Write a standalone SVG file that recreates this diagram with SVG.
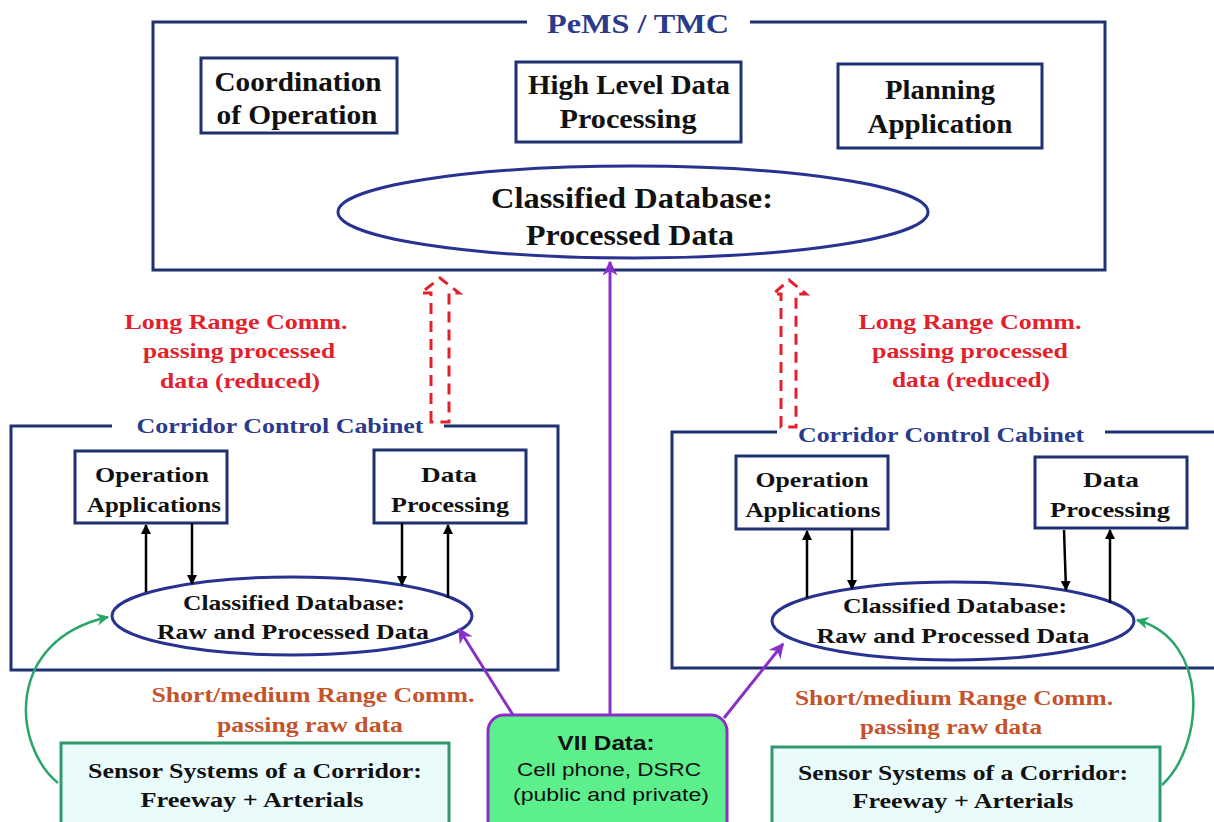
<svg xmlns="http://www.w3.org/2000/svg" width="1214" height="822" viewBox="0 0 1214 822">
<defs>
<style>
.t{font-family:"Liberation Serif","Times New Roman",serif;font-weight:bold;text-anchor:middle;fill:#111}
.box{fill:#fff;stroke:#1e3170;stroke-width:3}
.ell{fill:#fff;stroke:#27338f;stroke-width:3}
.frame{fill:none;stroke:#1e3170;stroke-width:3}
.blue{fill:#2a3a8c}
.red{fill:#e3212d}
.brown{fill:#c4532b}
.sensor{fill:#e9fbfb;stroke:#2f9a6c;stroke-width:3}
.sans{font-family:"Liberation Sans",Arial,sans-serif;text-anchor:middle;fill:#111}
.blk{stroke:#000;stroke-width:2.5;fill:none}
.pur{stroke:#8b2fc9;stroke-width:3;fill:none}
.grn{stroke:#2aa56a;stroke-width:2.5;fill:none}
.dash{stroke:#e3212d;stroke-width:3;fill:none;stroke-dasharray:11 7}
</style>
<marker id="ab" viewBox="0 0 10 10" refX="9" refY="5" markerWidth="4" markerHeight="4" orient="auto"><path d="M0,0 L10,5 L0,10 z" fill="#000"/></marker>
<marker id="ap" viewBox="0 0 10 10" refX="9" refY="5" markerWidth="5" markerHeight="5" orient="auto"><path d="M0,0 L10,5 L0,10 L3,5 z" fill="#8b2fc9"/></marker>
<marker id="ag" viewBox="0 0 10 10" refX="9" refY="5" markerWidth="5" markerHeight="5" orient="auto"><path d="M0,0 L10,5 L0,10 L3,5 z" fill="#2aa56a"/></marker>
</defs>
<rect width="1214" height="822" fill="#fff"/>

<g id="pems-tmc">
<path class="frame" d="M527 22 H153 V270 H1105 V22 H750"/>
<text class="t blue" x="638" y="33" font-size="28" textLength="182" lengthAdjust="spacingAndGlyphs">PeMS / TMC</text>
</g>
<g id="coordination">
<rect class="box" x="201" y="58" width="196" height="75"/>
<text class="t" x="298" y="91" font-size="28" textLength="167" lengthAdjust="spacingAndGlyphs">Coordination</text>
<text class="t" x="297" y="124" font-size="28" textLength="161" lengthAdjust="spacingAndGlyphs">of Operation</text>
</g>
<g id="high-level">
<rect class="box" x="516" y="62" width="225" height="80"/>
<text class="t" x="629" y="94" font-size="28" textLength="202" lengthAdjust="spacingAndGlyphs">High Level Data</text>
<text class="t" x="628" y="128" font-size="28" textLength="137" lengthAdjust="spacingAndGlyphs">Processing</text>
</g>
<g id="planning">
<rect class="box" x="838" y="64" width="204" height="84"/>
<text class="t" x="940" y="99" font-size="28" textLength="110" lengthAdjust="spacingAndGlyphs">Planning</text>
<text class="t" x="940" y="133" font-size="28" textLength="145" lengthAdjust="spacingAndGlyphs">Application</text>
</g>
<g id="db-top">
<ellipse class="ell" cx="633" cy="212" rx="295" ry="46"/>
<text class="t" x="632" y="208" font-size="29" textLength="282" lengthAdjust="spacingAndGlyphs">Classified Database:</text>
<text class="t" x="630" y="245" font-size="29" textLength="208" lengthAdjust="spacingAndGlyphs">Processed Data</text>
</g>

<g id="cabinet-left">
<path class="frame" d="M112 426 H11 V670 H558 V426 H444"/>
<text class="t blue" x="280" y="433" font-size="22" textLength="287" lengthAdjust="spacingAndGlyphs">Corridor Control Cabinet</text>
</g>
<g id="opapp-left">
<rect class="box" x="75" y="451" width="152" height="72"/>
<text class="t" x="152" y="482" font-size="22" textLength="114" lengthAdjust="spacingAndGlyphs">Operation</text>
<text class="t" x="154" y="512" font-size="22" textLength="134" lengthAdjust="spacingAndGlyphs">Applications</text>
</g>
<g id="dp-left">
<rect class="box" x="374" y="450" width="152" height="73"/>
<text class="t" x="449" y="482" font-size="22" textLength="56" lengthAdjust="spacingAndGlyphs">Data</text>
<text class="t" x="450" y="512" font-size="22" textLength="118" lengthAdjust="spacingAndGlyphs">Processing</text>
</g>
<g id="db-left">
<ellipse class="ell" cx="292" cy="616" rx="180" ry="39"/>
<text class="t" x="294" y="610" font-size="21" textLength="222" lengthAdjust="spacingAndGlyphs">Classified Database:</text>
<text class="t" x="293" y="639" font-size="21" textLength="272" lengthAdjust="spacingAndGlyphs">Raw and Processed Data</text>
</g>

<g id="cabinet-right">
<path class="frame" d="M777 432 H672 V668 H1216 M1105 432 H1216"/>
<text class="t blue" x="941" y="442" font-size="22" textLength="286" lengthAdjust="spacingAndGlyphs">Corridor Control Cabinet</text>
</g>
<g id="opapp-right">
<rect class="box" x="736" y="456" width="152" height="73"/>
<text class="t" x="812" y="487" font-size="22" textLength="113" lengthAdjust="spacingAndGlyphs">Operation</text>
<text class="t" x="813" y="517" font-size="22" textLength="135" lengthAdjust="spacingAndGlyphs">Applications</text>
</g>
<g id="dp-right">
<rect class="box" x="1035" y="457" width="152" height="71"/>
<text class="t" x="1111" y="487" font-size="22" textLength="56" lengthAdjust="spacingAndGlyphs">Data</text>
<text class="t" x="1110" y="517" font-size="22" textLength="120" lengthAdjust="spacingAndGlyphs">Processing</text>
</g>
<g id="db-right">
<ellipse class="ell" cx="953" cy="621" rx="181" ry="39"/>
<text class="t" x="955" y="613" font-size="21" textLength="224" lengthAdjust="spacingAndGlyphs">Classified Database:</text>
<text class="t" x="953" y="643" font-size="21" textLength="273" lengthAdjust="spacingAndGlyphs">Raw and Processed Data</text>
</g>

<g id="labels">
<text class="t red" x="236" y="329" font-size="22" textLength="223" lengthAdjust="spacingAndGlyphs">Long Range Comm.</text>
<text class="t red" x="239" y="358" font-size="22" textLength="192" lengthAdjust="spacingAndGlyphs">passing processed</text>
<text class="t red" x="240" y="388" font-size="22" textLength="160" lengthAdjust="spacingAndGlyphs">data (reduced)</text>
<text class="t red" x="970" y="329" font-size="22" textLength="223" lengthAdjust="spacingAndGlyphs">Long Range Comm.</text>
<text class="t red" x="970" y="358" font-size="22" textLength="196" lengthAdjust="spacingAndGlyphs">passing processed</text>
<text class="t red" x="971" y="387" font-size="22" textLength="158" lengthAdjust="spacingAndGlyphs">data (reduced)</text>
<text class="t brown" x="313" y="702" font-size="22" textLength="323" lengthAdjust="spacingAndGlyphs">Short/medium Range Comm.</text>
<text class="t brown" x="310" y="732" font-size="22" textLength="186" lengthAdjust="spacingAndGlyphs">passing raw data</text>
<text class="t brown" x="954" y="705" font-size="22" textLength="318" lengthAdjust="spacingAndGlyphs">Short/medium Range Comm.</text>
<text class="t brown" x="951" y="734" font-size="22" textLength="182" lengthAdjust="spacingAndGlyphs">passing raw data</text>
</g>

<g id="sensor-left">
<rect class="sensor" x="61" y="743" width="388" height="90"/>
<text class="t" x="255" y="778" font-size="21" textLength="334" lengthAdjust="spacingAndGlyphs">Sensor Systems of a Corridor:</text>
<text class="t" x="252" y="807" font-size="21" textLength="223" lengthAdjust="spacingAndGlyphs">Freeway + Arterials</text>
</g>
<g id="sensor-right">
<rect class="sensor" x="772" y="747" width="388" height="90"/>
<text class="t" x="963" y="780" font-size="21" textLength="330" lengthAdjust="spacingAndGlyphs">Sensor Systems of a Corridor:</text>
<text class="t" x="963" y="808" font-size="21" textLength="221" lengthAdjust="spacingAndGlyphs">Freeway + Arterials</text>
</g>
<g id="vii">
<rect x="488" y="715" width="239" height="122" rx="16" fill="#5cef8c" stroke="#8b2fc9" stroke-width="3"/>
<text class="sans" x="606" y="750" font-size="21" font-weight="bold" textLength="97" lengthAdjust="spacingAndGlyphs">VII Data:</text>
<text class="sans" x="609" y="776" font-size="18" textLength="184" lengthAdjust="spacingAndGlyphs">Cell phone, DSRC</text>
<text class="sans" x="611" y="801" font-size="18" textLength="196" lengthAdjust="spacingAndGlyphs">(public and private)</text>
</g>

<g id="connectors">
<path class="dash" d="M431 422 V293 H421 L440 278 L459 293 H449 V422 Z"/>
<path class="dash" d="M781 427 V294 H773 L789 280 L806 294 H796 V427 Z"/>
<line class="blk" x1="146" y1="592" x2="146" y2="525" marker-end="url(#ab)"/>
<line class="blk" x1="192" y1="523" x2="192" y2="584" marker-end="url(#ab)"/>
<line class="blk" x1="402" y1="523" x2="402" y2="585" marker-end="url(#ab)"/>
<line class="blk" x1="448" y1="598" x2="448" y2="525" marker-end="url(#ab)"/>
<line class="blk" x1="807" y1="598" x2="807" y2="531" marker-end="url(#ab)"/>
<line class="blk" x1="852" y1="529" x2="852" y2="589" marker-end="url(#ab)"/>
<line class="blk" x1="1064" y1="530" x2="1066" y2="590" marker-end="url(#ab)"/>
<line class="blk" x1="1110" y1="603" x2="1110" y2="530" marker-end="url(#ab)"/>
<line class="pur" x1="610" y1="715" x2="610" y2="262" marker-end="url(#ap)"/>
<line class="pur" x1="513" y1="715" x2="459" y2="629" marker-end="url(#ap)"/>
<line class="pur" x1="724" y1="718" x2="783" y2="644" marker-end="url(#ap)"/>
<path class="grn" d="M58 783 C 12 745, 5 640, 108 617" marker-end="url(#ag)"/>
<path class="grn" d="M1162 785 C 1205 745, 1210 640, 1137 620" marker-end="url(#ag)"/>
</g>
</svg>
